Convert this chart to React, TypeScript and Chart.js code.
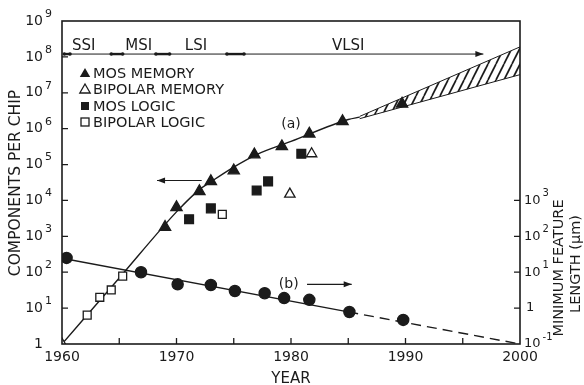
import React, { useEffect, useRef } from 'react';
import { Chart, registerables } from 'chart.js';

Chart.register(...registerables);

// ---------------- data ----------------
const mosMemoryYears = [1969, 1970, 1972, 1973, 1975, 1976.8, 1979.2, 1981.6, 1984.5, 1989.7];
const mosMemoryValues = [1.8e3, 6.4e3, 1.8e4, 3.4e4, 6.8e4, 1.9e5, 3.2e5, 7.2e5, 1.6e6, 4.9e6];

const bipolarMemoryYears = [1960, 1979.9, 1981.8];
const bipolarMemoryValues = [1, 1.5e4, 2.0e5];

const mosLogicYears = [1971.1, 1973, 1977, 1978, 1980.9];
const mosLogicValues = [3.0e3, 6.0e3, 1.9e4, 3.4e4, 2.0e5];

const bipolarLogicYears = [1962.2, 1963.3, 1964.3, 1965.3, 1974];
const bipolarLogicValues = [6.4, 20, 32, 78, 4.1e3];

const featureYears = [1960.4, 1966.9, 1970.1, 1973, 1975.1, 1977.7, 1979.4, 1981.6, 1985.1, 1989.8];
const featureValues = [25, 10, 4.6, 4.4, 3.0, 2.6, 1.9, 1.7, 0.78, 0.47];

// curve (a): components per chip trend
const curveAYears = [1960, 1965, 1970, 1972, 1973, 1975, 1977, 1980, 1985, 1986];
const curveAValues = [1, 69, 4.8e3, 2.0e4, 3.3e4, 8.5e4, 1.9e5, 4.4e5, 1.8e6, 2.1e6];

// projected band (hatched)
const bandYears = [1986, 2000];
const bandLowerValues = [1.9e6, 3.2e7];
const bandUpperValues = [2.2e6, 1.9e8];

// curve (b): minimum feature length (µm)
const curveBSolidYears = [1960, 1985];
const curveBSolidValues = [24.5, 0.785];
const curveBDashYears = [1985, 2000];
const curveBDashValues = [0.785, 0.1];

// axes
const xTickYears = [1965, 1970, 1975, 1980, 1985, 1990, 1995];
const xLabelYears = [1960, 1970, 1980, 1990, 2000];
const leftTickExponents = [0, 1, 2, 3, 4, 5, 6, 7, 8, 9];
const rightTickExponents = [-1, 0, 1, 2, 3];

// integration eras
const eraNames = ['SSI', 'MSI', 'LSI', 'VLSI'];
const eraLabelYears = [1961.9, 1966.7, 1971.7, 1985];
const eraMarkerStarts = [1960.2, 1964.3, 1968.2, 1974.4];
const eraMarkerEnds = [1960.7, 1965.3, 1969.4, 1975.9];
const eraLineLevel = 1.2e8;
const eraArrowEnd = 1996.8;

const legendLabels = ['MOS MEMORY', 'BIPOLAR MEMORY', 'MOS LOGIC', 'BIPOLAR LOGIC'];

// ---------------- style ----------------
const W = 584;
const H = 385;
const INK = '#1b1b1b';
const FONT = '"DejaVu Sans", sans-serif';

const pts = (xs: number[], ys: number[]) => xs.map((x, i) => ({ x, y: ys[i] }));

function makeHatch(ctx: CanvasRenderingContext2D) {
  const c = document.createElement('canvas');
  c.width = 8;
  c.height = 16;
  const g = c.getContext('2d')!;
  g.strokeStyle = INK;
  g.lineWidth = 1.7;
  for (let k = -1; k <= 1; k++) {
    g.beginPath();
    g.moveTo(k * 8, 16);
    g.lineTo(k * 8 + 8, 0);
    g.stroke();
  }
  return ctx.createPattern(c, 'repeat');
}

function tri(ctx: CanvasRenderingContext2D, x: number, y: number, r: number, filled: boolean) {
  ctx.beginPath();
  ctx.moveTo(x, y - r);
  ctx.lineTo(x + r * 0.866, y + r / 2);
  ctx.lineTo(x - r * 0.866, y + r / 2);
  ctx.closePath();
  if (filled) { ctx.fillStyle = INK; ctx.fill(); }
  else { ctx.fillStyle = '#fff'; ctx.fill(); ctx.lineWidth = 1.3; ctx.stroke(); }
}

function sq(ctx: CanvasRenderingContext2D, x: number, y: number, s: number, filled: boolean) {
  if (filled) { ctx.fillStyle = INK; ctx.fillRect(x - s / 2, y - s / 2, s, s); }
  else { ctx.fillStyle = '#fff'; ctx.fillRect(x - s / 2, y - s / 2, s, s); ctx.lineWidth = 1.3; ctx.strokeRect(x - s / 2, y - s / 2, s, s); }
}

function arrow(ctx: CanvasRenderingContext2D, x1: number, y1: number, x2: number, y2: number) {
  ctx.beginPath();
  ctx.moveTo(x1, y1);
  ctx.lineTo(x2, y2);
  ctx.stroke();
  const ang = Math.atan2(y2 - y1, x2 - x1);
  const L = 8, hw = 3;
  ctx.beginPath();
  ctx.moveTo(x2, y2);
  ctx.lineTo(x2 - L * Math.cos(ang) + hw * Math.sin(ang), y2 - L * Math.sin(ang) - hw * Math.cos(ang));
  ctx.lineTo(x2 - L * Math.cos(ang) - hw * Math.sin(ang), y2 - L * Math.sin(ang) + hw * Math.cos(ang));
  ctx.closePath();
  ctx.fill();
}

function powLabel(ctx: CanvasRenderingContext2D, exp: number, x: number, y: number, side: 'left' | 'right', size: number) {
  ctx.textBaseline = 'middle';
  ctx.font = `${size}px ${FONT}`;
  if (exp === 0) {
    ctx.textAlign = side === 'left' ? 'right' : 'left';
    ctx.fillText('1', side === 'left' ? x : x + 2, y);
    return;
  }
  const wb = ctx.measureText('10').width;
  const sup = exp < 0 ? '-' + Math.abs(exp) : String(exp);
  const startX = side === 'left' ? x - wb : x;
  ctx.textAlign = 'left';
  ctx.fillText('10', startX, y);
  ctx.font = `${Math.round(size * 0.78)}px ${FONT}`;
  ctx.fillText(sup, startX + wb + 2, y - 7);
}

const decor = {
  id: 'decor',
  afterDatasetsDraw(chart: any) {
    const { ctx, chartArea: a, scales } = chart;
    const x = scales.x, y = scales.y, y2 = scales.y2;
    ctx.save();
    ctx.strokeStyle = INK;
    ctx.fillStyle = INK;

    // frame
    ctx.lineWidth = 1.6;
    ctx.strokeRect(a.left, a.top, a.right - a.left, a.bottom - a.top);

    // inward ticks
    ctx.lineWidth = 1.3;
    ctx.beginPath();
    for (const yr of xTickYears) {
      const px = x.getPixelForValue(yr);
      ctx.moveTo(px, a.bottom);
      ctx.lineTo(px, a.bottom - 6);
    }
    for (const e of leftTickExponents) {
      if (e === 0 || e === 9) continue;
      const py = y.getPixelForValue(Math.pow(10, e));
      ctx.moveTo(a.left, py);
      ctx.lineTo(a.left + 6, py);
    }
    for (const e of rightTickExponents) {
      if (e === -1) continue;
      const py = y2.getPixelForValue(Math.pow(10, e));
      ctx.moveTo(a.right, py);
      ctx.lineTo(a.right - 6, py);
    }
    ctx.stroke();

    // tick labels
    ctx.fillStyle = INK;
    for (const e of leftTickExponents) {
      powLabel(ctx, e, a.left - 19, y.getPixelForValue(Math.pow(10, e)), 'left', 14);
    }
    for (const e of rightTickExponents) {
      powLabel(ctx, e, a.right + 4, y2.getPixelForValue(Math.pow(10, e)), 'right', 13);
    }
    ctx.font = `14px ${FONT}`;
    ctx.textAlign = 'center';
    ctx.textBaseline = 'middle';
    for (const yr of xLabelYears) {
      ctx.fillText(String(yr), x.getPixelForValue(yr), a.bottom + 13);
    }

    // axis titles
    ctx.font = `15px ${FONT}`;
    ctx.fillText('YEAR', (a.left + a.right) / 2, a.bottom + 35);
    ctx.save();
    ctx.font = `15.5px ${FONT}`;
    ctx.translate(16, 183);
    ctx.rotate(-Math.PI / 2);
    ctx.fillText('COMPONENTS PER CHIP', 0, 0);
    ctx.restore();
    ctx.save();
    ctx.font = `14.5px ${FONT}`;
    ctx.translate(a.right + 39, 268);
    ctx.rotate(-Math.PI / 2);
    ctx.fillText('MINIMUM FEATURE', 0, 0);
    ctx.fillText('LENGTH (\u03BCm)', 4, 17);
    ctx.restore();

    // eras
    const ey = y.getPixelForValue(eraLineLevel);
    ctx.lineWidth = 1;
    arrow(ctx, x.getPixelForValue(eraMarkerStarts[0]), ey, x.getPixelForValue(eraArrowEnd), ey);
    ctx.lineWidth = 2.4;
    for (let i = 0; i < eraMarkerStarts.length; i++) {
      const s = x.getPixelForValue(eraMarkerStarts[i]);
      const e = x.getPixelForValue(eraMarkerEnds[i]);
      ctx.beginPath();
      ctx.moveTo(s, ey);
      ctx.lineTo(e, ey);
      ctx.stroke();
      ctx.beginPath();
      ctx.arc(s, ey, 1.8, 0, Math.PI * 2);
      ctx.arc(e, ey, 1.8, 0, Math.PI * 2);
      ctx.fill();
    }
    ctx.font = `15px ${FONT}`;
    ctx.textAlign = 'center';
    for (let i = 0; i < eraNames.length; i++) {
      ctx.fillText(eraNames[i], x.getPixelForValue(eraLabelYears[i]), ey - 8);
    }

    // curve labels and arrows
    ctx.font = `14px ${FONT}`;
    ctx.fillText('(a)', x.getPixelForValue(1980), y.getPixelForValue(1.3e6));
    ctx.fillText('(b)', x.getPixelForValue(1979.8), y2.getPixelForValue(4.6));
    ctx.lineWidth = 1.2;
    arrow(ctx, x.getPixelForValue(1981.4), y2.getPixelForValue(4.6), x.getPixelForValue(1985.3), y2.getPixelForValue(4.6));
    arrow(ctx, x.getPixelForValue(1972.2), y.getPixelForValue(3.6e4), x.getPixelForValue(1968.3), y.getPixelForValue(3.6e4));

    // legend
    const lx = 85, tx = 93;
    const rows = [73, 89, 106, 122];
    ctx.textAlign = 'left';
    ctx.font = `14.5px ${FONT}`;
    tri(ctx, lx, rows[0] + 1, 6, true);
    tri(ctx, lx, rows[1] + 1, 6, false);
    sq(ctx, lx, rows[2], 8, true);
    sq(ctx, lx, rows[3], 8, false);
    ctx.fillStyle = INK;
    legendLabels.forEach((t, i) => ctx.fillText(t, tx, rows[i] + 1));

    ctx.restore();
  },
};

export default function App() {
  const ref = useRef<HTMLCanvasElement | null>(null);

  useEffect(() => {
    document.body.style.margin = '0';
    const canvas = ref.current!;
    const ctx = canvas.getContext('2d')!;
    const hatch = makeHatch(ctx);

    const scatterBase = { showLine: false, borderColor: INK, borderWidth: 1.3 };
    const lineBase = { showLine: true, pointRadius: 0, borderColor: INK, borderWidth: 1.4, fill: false };

    const chart = new Chart(ctx, {
      type: 'scatter',
      data: {
        datasets: [
          { ...scatterBase, label: 'MOS MEMORY', data: pts(mosMemoryYears, mosMemoryValues), pointStyle: 'triangle', pointRadius: 6.5, backgroundColor: INK, yAxisID: 'y' },
          { ...scatterBase, label: 'BIPOLAR MEMORY', data: pts(bipolarMemoryYears, bipolarMemoryValues), pointStyle: 'triangle', pointRadius: 6, backgroundColor: '#fff', yAxisID: 'y' },
          { ...scatterBase, label: 'MOS LOGIC', data: pts(mosLogicYears, mosLogicValues), pointStyle: 'rect', pointRadius: 6.2, backgroundColor: INK, yAxisID: 'y' },
          { ...scatterBase, label: 'BIPOLAR LOGIC', data: pts(bipolarLogicYears, bipolarLogicValues), pointStyle: 'rect', pointRadius: 5.6, backgroundColor: '#fff', yAxisID: 'y' },
          { ...scatterBase, label: 'FEATURE LENGTH', data: pts(featureYears, featureValues), pointStyle: 'circle', pointRadius: 5.6, backgroundColor: INK, yAxisID: 'y2' },
          { ...lineBase, label: 'curve a', data: pts(curveAYears, curveAValues), cubicInterpolationMode: 'monotone', yAxisID: 'y' },
          { ...lineBase, label: 'band lower', data: pts(bandYears, bandLowerValues), borderWidth: 1, yAxisID: 'y' },
          { ...lineBase, label: 'band upper', data: pts(bandYears, bandUpperValues), borderWidth: 1, fill: '-1', backgroundColor: hatch, yAxisID: 'y' },
          { ...lineBase, label: 'curve b', data: pts(curveBSolidYears, curveBSolidValues), yAxisID: 'y2' },
          { ...lineBase, label: 'curve b projected', data: pts(curveBDashYears, curveBDashValues), borderDash: [10, 6], yAxisID: 'y2' },
        ] as any,
      },
      options: {
        responsive: false,
        animation: false,
        devicePixelRatio: 1,
        layout: { padding: { left: 62, right: 64, top: 21, bottom: 41 } },
        plugins: { legend: { display: false }, tooltip: { enabled: false } },
        scales: {
          x: { type: 'linear', min: 1960, max: 2000, display: false },
          y: { type: 'logarithmic', min: 1, max: 1e9, display: false },
          y2: { type: 'logarithmic', min: 0.1, max: 1e8, display: false, position: 'right' },
        },
      } as any,
      plugins: [decor],
    });
    return () => chart.destroy();
  }, []);

  return (
    <div style={{ width: W, height: H, background: '#fff' }}>
      <canvas ref={ref} width={W} height={H} style={{ width: W, height: H, display: 'block' }} />
    </div>
  );
}
